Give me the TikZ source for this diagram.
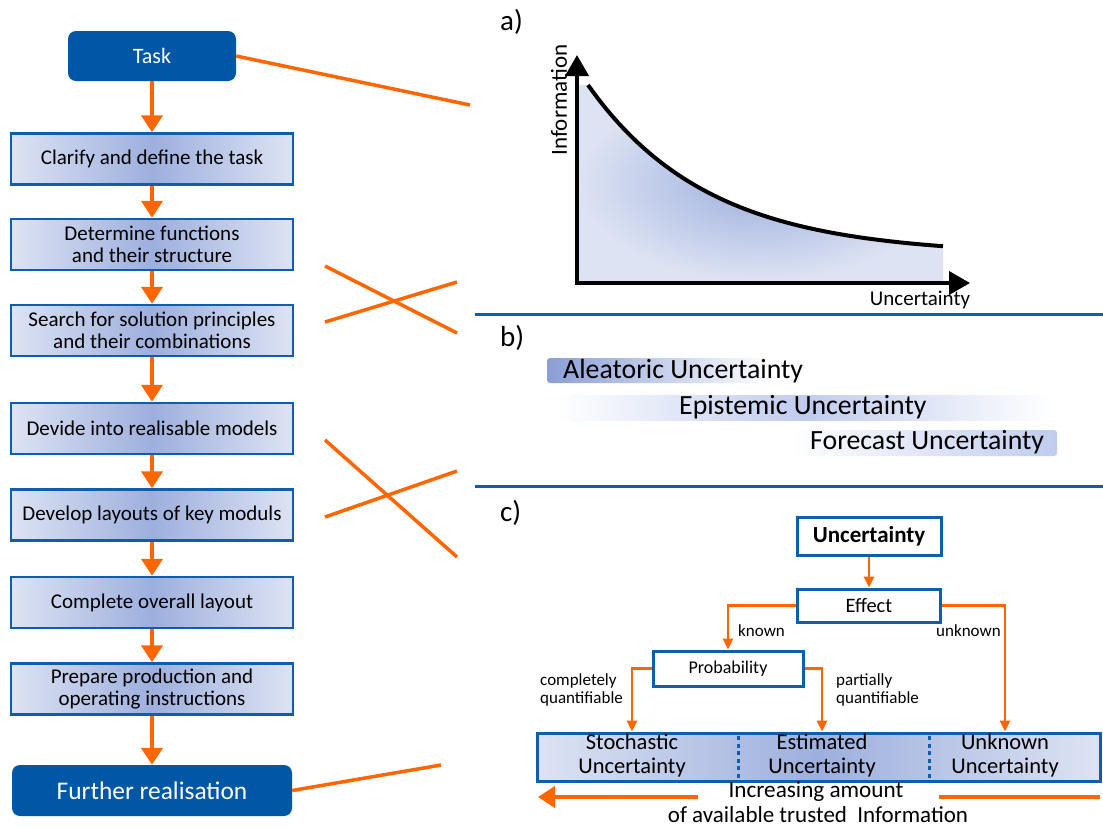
\documentclass[tikz,border=0pt]{standalone}
\usepackage{fontspec}
\setmainfont{Carlito}
\usetikzlibrary{arrows.meta,shapes.misc}

\definecolor{dkblue}{HTML}{0057A6}
\definecolor{edgeblue}{HTML}{0E5EAE}
\definecolor{flow}{HTML}{FF6600}
\definecolor{shadeedge}{HTML}{DDE3F3}
\definecolor{shademid}{HTML}{9DAFDD}
\definecolor{barblue}{HTML}{8A9ED6}
\definecolor{barlight}{HTML}{C0CCEE}

\tikzset{
  endbox/.style={rounded corners=8pt, fill=dkblue, draw=none, text=white,
    inner sep=0pt, align=center},
  stepbox/.style={draw=edgeblue, line width=2.5pt, inner sep=0pt, align=center,
    minimum width=282pt, minimum height=51pt,
    left color=shadeedge, right color=shadeedge, middle color=shademid,
    font=\fontsize{21}{22}\selectfont},
  bigflow/.style={draw=flow, line width=4.5pt,
    -{Triangle[width=21pt,length=17pt]}},
  plainflow/.style={draw=flow, line width=3.5pt},
  smallflow/.style={draw=flow, line width=2.5pt,
    -{Triangle[width=10pt,length=11pt]}},
  whitebox/.style={draw=edgeblue, line width=3pt, fill=white, inner sep=0pt},
  axis/.style={line width=4pt, -{Triangle[width=23pt,length=21pt]}},
  divider/.style={line width=3pt, draw=edgeblue},
  tag/.style={font=\fontsize{17}{18}\selectfont, inner sep=0pt},
  heading/.style={font=\fontsize{29}{30}\selectfont, inner sep=0pt},
  kind/.style={anchor=west, font=\fontsize{27.8}{29}\selectfont, inner sep=0pt},
  cell/.style={align=center, font=\fontsize{22.5}{24}\selectfont, inner sep=0pt}
}

\begin{document}
\begin{tikzpicture}[x=1pt,y=-1pt]
\useasboundingbox (0,0) rectangle (1103,828);

% ---------- process chain on the left ----------
\node[endbox, minimum width=168pt, minimum height=50pt, font=\fontsize{22}{23}\selectfont]
  (task) at (152,56) {Task};
\node[stepbox] (s1) at (152,159) {Clarify and define the task};
\node[stepbox] (s2) at (152,244.5) {Determine functions\\ and their structure};
\node[stepbox] (s3) at (152,330.5) {Search for solution principles\\ and their combinations};
\node[stepbox] (s4) at (152,428.5) {Devide into realisable models};
\node[stepbox] (s5) at (152,515) {Develop layouts of key moduls};
\node[stepbox] (s6) at (152,602.5) {Complete overall layout};
\node[stepbox] (s7) at (152,689) {Prepare production and\\ operating instructions};
\node[endbox, minimum width=280pt, minimum height=51pt, font=\fontsize{25.4}{26}\selectfont]
  (further) at (152,790.5) {Further realisation};

\draw[bigflow] (task) -- (s1);
\draw[bigflow] (s1) -- (s2);
\draw[bigflow] (s2) -- (s3);
\draw[bigflow] (s3) -- (s4);
\draw[bigflow] (s4) -- (s5);
\draw[bigflow] (s5) -- (s6);
\draw[bigflow] (s6) -- (s7);
\draw[bigflow] (s7) -- (further);

% links from the chain towards the panels
\coordinate (taskend) at (470,105);
\coordinate (furtherend) at (441,765);
\draw[plainflow] (task.east) -- (taskend);
\draw[plainflow] (further.east) -- (furtherend);

\coordinate (xa1) at (325,266); \coordinate (xa2) at (457,333);
\coordinate (xb1) at (325,322); \coordinate (xb2) at (457,282);
\coordinate (xc1) at (325,440); \coordinate (xc2) at (457,557);
\coordinate (xd1) at (325,517); \coordinate (xd2) at (457,471);
\draw[plainflow] (xa1) -- (xa2);
\draw[plainflow] (xb1) -- (xb2);
\draw[plainflow] (xc1) -- (xc2);
\draw[plainflow] (xd1) -- (xd2);

% panel separators
\coordinate (sepa1) at (475,314); \coordinate (sepa2) at (1103,314);
\coordinate (sepb1) at (475,486); \coordinate (sepb2) at (1103,486);
\draw[divider] (sepa1) -- (sepa2);
\draw[divider] (sepb1) -- (sepb2);

% ---------- a) information over uncertainty ----------
\node[heading, anchor=west] (la) at (500,22) {a)};
\shade[inner color=shademid, outer color=shadeedge]
  (577,85) -- (588,85)
  -- plot[domain=588:943, samples=60] (\x,{255-170*exp(-(\x-588)/120)})
  -- (943,281) -- (577,281) -- cycle;
\draw[line width=4pt]
  plot[domain=588:943, samples=60] (\x,{255-170*exp(-(\x-588)/120)});
\coordinate (origin) at (577,283);
\coordinate (ytip) at (577,55);
\coordinate (xtip) at (970,283);
\draw[axis] ([xshift=-2pt]origin) -- (xtip);
\draw[axis] ([yshift=2pt]origin) -- (ytip);
\node[rotate=90, font=\fontsize{23}{24}\selectfont, inner sep=0pt] (ylab) at (559,100) {Information};
\node[font=\fontsize{21}{22}\selectfont, inner sep=0pt] (xlab) at (920,300) {Uncertainty};

% ---------- b) kinds of uncertainty ----------
\node[heading, anchor=west] (lb) at (500,338) {b)};
\shade[rounded corners=3pt, left color=barblue, right color=white]
  (547,358) rectangle (770,383);
\shade[left color=white, right color=white, middle color=barlight]
  (558,395) rectangle (1052,420);
\shade[rounded corners=3pt, left color=white, right color=barlight]
  (790,430) rectangle (1057,456);
\node[kind] (alea) at (563,371) {Aleatoric Uncertainty};
\node[kind] (epis) at (679,407) {Epistemic Uncertainty};
\node[kind] (fore) at (810,442) {Forecast Uncertainty};

% ---------- c) classification tree ----------
\node[heading, anchor=west] (lc) at (500,513) {c)};
\node[whitebox, minimum width=144pt, minimum height=38pt,
  font=\bfseries\fontsize{23}{24}\selectfont] (unc) at (869,536) {Uncertainty};
\node[whitebox, minimum width=143pt, minimum height=33pt,
  font=\fontsize{20.5}{22}\selectfont] (eff) at (869,605.5) {Effect};
\node[whitebox, minimum width=150pt, minimum height=35pt,
  font=\fontsize{18}{20}\selectfont] (prob) at (728,668.5) {Probability};

\node[draw=edgeblue, line width=3pt, inner sep=0pt, minimum width=563pt, minimum height=48pt,
  left color=shadeedge, right color=shadeedge, middle color=shademid] (bot) at (818.5,757) {};
\node[cell] (stoch) at (632,755) {Stochastic\\ Uncertainty};
\node[cell] (est) at (822,755) {Estimated\\ Uncertainty};
\node[cell] (unk) at (1005,755) {Unknown\\ Uncertainty};
\draw[divider, dash pattern=on 4pt off 3.5pt] (738,736) -- (738,779);
\draw[divider, dash pattern=on 4pt off 3.5pt] (929,736) -- (929,779);

\draw[smallflow] (unc) -- (eff);
\draw[smallflow] (eff.west) -| (prob.north);
\draw[smallflow] (eff.east) -| (unk |- bot.north);
\draw[smallflow] (prob.west) -| (stoch |- bot.north);
\draw[smallflow] (prob.east) -| (est |- bot.north);

\node[tag, anchor=west] (known) at (738,631) {known};
\node[tag, anchor=west] (unknown) at (936,631) {unknown};
\node[tag, align=left, anchor=west] (compl) at (540,690) {completely\\ quantifiable};
\node[tag, align=left, anchor=west] (part) at (836,690) {partially\\ quantifiable};

% information scale
\node[font=\fontsize{23.2}{24}\selectfont, inner sep=0pt] (inc) at (816,792) {Increasing amount};
\node[font=\fontsize{23}{24}\selectfont, inner sep=0pt] (avail) at (818,814.5) {of available trusted\ \ Information};
\coordinate (scaleL) at (538,797);
\coordinate (scaleR) at (1100,797);
\draw[draw=flow, line width=4.5pt, -{Triangle[width=21pt,length=17pt]}] ([xshift=-30pt]inc.west |- scaleL) -- (scaleL);
\draw[plainflow, line width=4.5pt] ([xshift=35pt]inc.east |- scaleR) -- (scaleR);
\end{tikzpicture}
\end{document}
